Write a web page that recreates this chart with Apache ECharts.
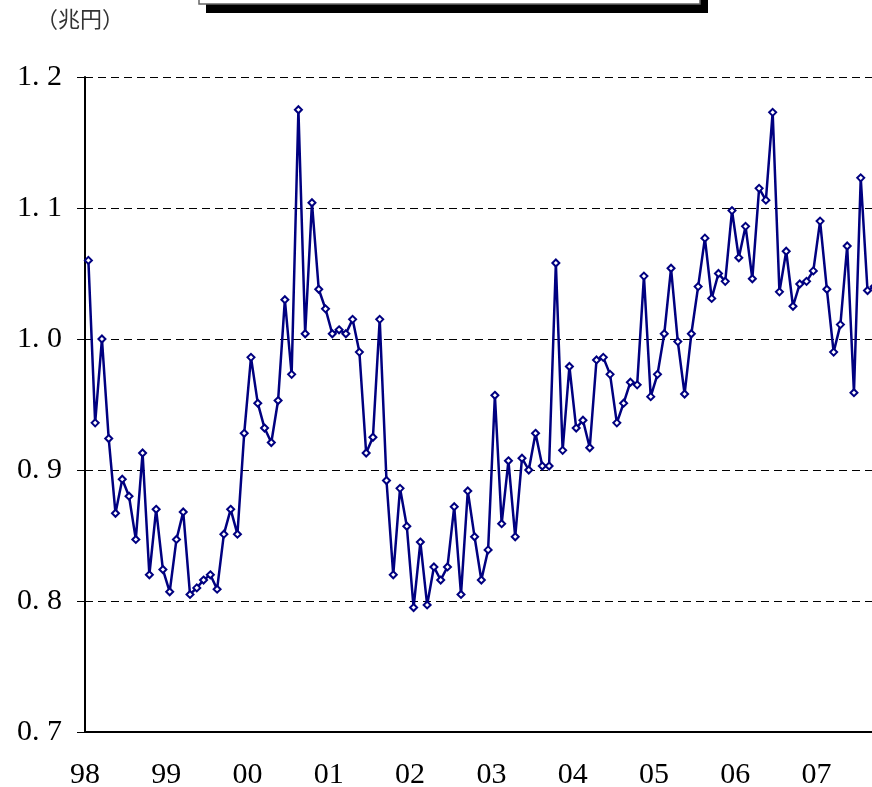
<!DOCTYPE html>
<html>
<head>
<meta charset="utf-8">
<script src="https://cdn.jsdelivr.net/npm/echarts@6/dist/echarts.min.js"></script>
<style>
  html, body { margin: 0; padding: 0; background: #fff; }
  #chart { width: 872px; height: 787px; }
</style>
</head>
<body>
<div id="chart"></div>
<script>
// monthly values, Jan 1998 .. Sep 2007 (兆円)
const years = ['98', '99', '00', '01', '02', '03', '04', '05', '06', '07'];
const v1998 = [1.060, 0.936, 1.000, 0.924, 0.867, 0.893, 0.880, 0.847, 0.913, 0.820, 0.870, 0.824];
const v1999 = [0.807, 0.847, 0.868, 0.805, 0.810, 0.816, 0.820, 0.809, 0.851, 0.870, 0.851, 0.928];
const v2000 = [0.986, 0.951, 0.932, 0.921, 0.953, 1.030, 0.973, 1.175, 1.004, 1.104, 1.038, 1.023];
const v2001 = [1.004, 1.007, 1.004, 1.015, 0.990, 0.913, 0.925, 1.015, 0.892, 0.820, 0.886, 0.857];
const v2002 = [0.795, 0.845, 0.797, 0.826, 0.816, 0.826, 0.872, 0.805, 0.884, 0.849, 0.816, 0.839];
const v2003 = [0.957, 0.859, 0.907, 0.849, 0.909, 0.900, 0.928, 0.903, 0.903, 1.058, 0.915, 0.979];
const v2004 = [0.932, 0.938, 0.917, 0.984, 0.986, 0.973, 0.936, 0.951, 0.967, 0.965, 1.048, 0.956];
const v2005 = [0.973, 1.004, 1.054, 0.998, 0.958, 1.004, 1.040, 1.077, 1.031, 1.050, 1.044, 1.098];
const v2006 = [1.062, 1.086, 1.046, 1.115, 1.106, 1.173, 1.036, 1.067, 1.025, 1.042, 1.044, 1.052];
const v2007 = [1.090, 1.038, 0.990, 1.011, 1.071, 0.959, 1.123, 1.037, 1.040];
const yTicks = [0.7, 0.8, 0.9, 1.0, 1.1, 1.2];

const values = [].concat(v1998, v1999, v2000, v2001, v2002, v2003, v2004, v2005, v2006, v2007);
const months = [];
years.forEach(y => {
  for (let m = 1; m <= 12; m++) months.push(y + '/' + (m < 10 ? '0' + m : m));
});

const navy = '#000080';
const serif = '"Liberation Serif", "DejaVu Serif", serif';

const chart = echarts.init(document.getElementById('chart'));

chart.setOption({
  animation: false,
  grid: { left: 85, top: 77, width: 813, height: 655, outerBoundsMode: 'none', containLabel: false },
  graphic: [
    { type: 'rect', shape: { x: 206, y: -30, width: 502, height: 43 }, style: { fill: '#000' } },
    { type: 'rect', shape: { x: 199, y: -30, width: 501, height: 34 }, style: { fill: '#fff', stroke: '#666', lineWidth: 1.5 } },
    {
      type: 'text', left: 36, top: 8,
      style: { text: '（兆円）', fill: '#333', fontSize: 22, fontFamily: '"Noto Sans CJK JP"' }
    }
  ],
  xAxis: {
    type: 'category',
    data: months,
    boundaryGap: true,
    axisLine: { lineStyle: { color: '#000', width: 2 } },
    axisTick: {
      inside: true,
      length: 8,
      interval: (i) => i % 12 === 0,
      lineStyle: { color: '#000', width: 1 }
    },
    axisLabel: {
      interval: (i) => i % 12 === 0,
      formatter: (v) => v.slice(0, 2),
      color: '#000',
      fontFamily: serif,
      fontSize: 30,
      margin: 28,
      padding: [0, 7, 0, 0]
    },
    splitLine: { show: false }
  },
  yAxis: {
    type: 'value',
    min: yTicks[0],
    max: yTicks[yTicks.length - 1],
    interval: 0.1,
    axisLine: { show: true, lineStyle: { color: '#000', width: 2 } },
    axisTick: { show: true, length: 8, lineStyle: { color: '#000', width: 1 } },
    axisLabel: {
      color: '#000',
      fontFamily: serif,
      fontSize: 30,
      margin: 23,
      formatter: (v) => v.toFixed(1).replace('.', '. ')
    },
    splitLine: {
      show: true,
      lineStyle: { color: '#000', width: 1, type: [8, 5] }
    }
  },
  series: [{
    type: 'line',
    data: values,
    symbol: 'diamond',
    symbolSize: 7,
    showAllSymbol: true,
    lineStyle: { color: navy, width: 2.5 },
    itemStyle: { color: '#fff', borderColor: navy, borderWidth: 2 }
  }]
});
</script>
</body>
</html>
